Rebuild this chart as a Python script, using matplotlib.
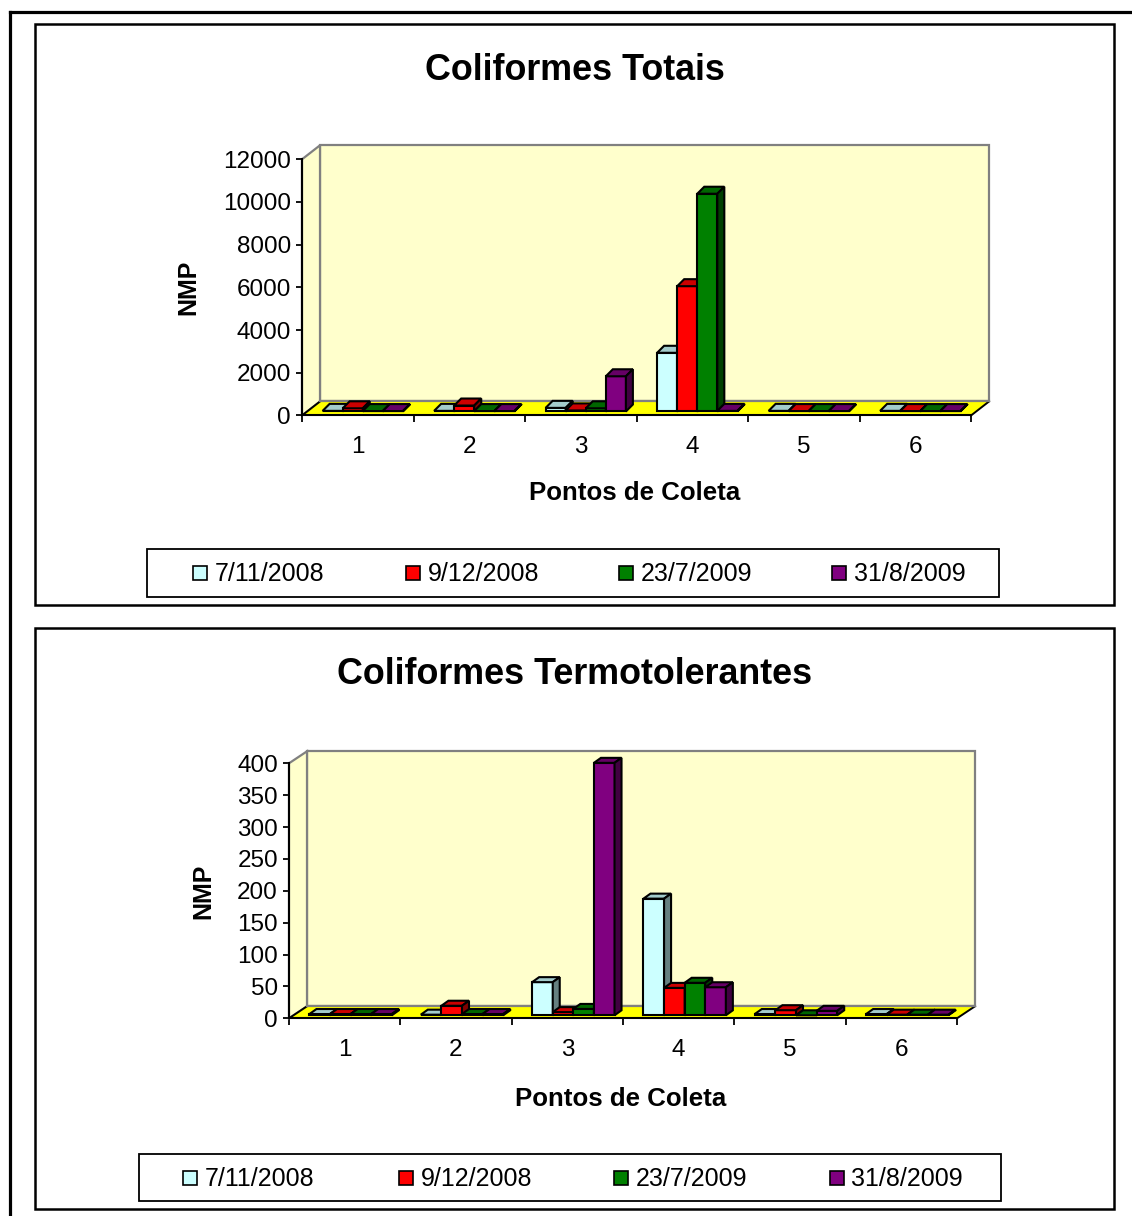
import matplotlib
matplotlib.use("Agg")
import matplotlib.pyplot as plt
from matplotlib.patches import Polygon, Rectangle
from matplotlib.lines import Line2D
from matplotlib.transforms import ScaledTranslation, IdentityTransform

plt.rcParams['font.family'] = ['Liberation Sans', 'DejaVu Sans']

W, H, DPI = 1132, 1216, 100

# ---- data -------------------------------------------------------------
categories = ['1', '2', '3', '4', '5', '6']
series_names = ['7/11/2008', '9/12/2008', '23/7/2009', '31/8/2009']

# Coliformes Totais (NMP)
totais_07_11_2008 = [30, 30, 170, 2750, 30, 30]
totais_09_12_2008 = [150, 280, 50, 5870, 20, 20]
totais_23_07_2009 = [20, 20, 150, 10200, 20, 20]
totais_31_08_2009 = [20, 20, 1650, 30, 20, 20]
totais_yticks = [0, 2000, 4000, 6000, 8000, 10000, 12000]

# Coliformes Termotolerantes (NMP)
termo_07_11_2008 = [2, 1, 52, 183, 2, 2]
termo_09_12_2008 = [2, 15, 5, 43, 8, 1]
termo_23_07_2009 = [2, 2, 10, 51, 0, 1]
termo_31_08_2009 = [2, 2, 396, 44, 7, 1]
termo_yticks = [0, 50, 100, 150, 200, 250, 300, 350, 400]

# ---- styling ----------------------------------------------------------
front_colors = ['#CCFFFF', '#FF0000', '#008000', '#800080']
top_colors = ['#A3CCCC', '#CC0000', '#006600', '#660066']
side_colors = ['#668080', '#800000', '#004000', '#400040']
WALL = '#FFFFCC'
FLOOR = '#FFFF00'
GRAY = '#808080'
EDGE_LW = 1.5
FS_TICK = 17.5
FS_LEGEND = 18
FS_YLABEL = 18
FS_XLABEL = 18.6
FS_TITLE = 25.8

fig = plt.figure(figsize=(W / DPI, H / DPI), dpi=DPI)
fig.patch.set_facecolor('white')

# background layer in pixel coordinates (frames, titles, legends)
bg = fig.add_axes([0, 0, 1, 1], zorder=0)
bg.set_xlim(0, W)
bg.set_ylim(H, 0)
bg.axis('off')

# page border
bg.plot([9.5, 9.5], [12, H], color='black', lw=2.3, solid_capstyle='projecting')
bg.plot([9.5, W], [12, 12], color='black', lw=2.3, solid_capstyle='projecting')


def draw_panel(spec, series_values, yticks):
    x0, x1, y0, ytop = spec['axes']
    ax = fig.add_axes([x0 / W, 1 - y0 / H, (x1 - x0) / W, (y0 - ytop) / H], zorder=1)
    ncat = len(categories)
    ymax = yticks[-1]
    ax.set_xlim(0, ncat)
    ax.set_ylim(0, ymax)
    ax.set_facecolor('none')
    for s in ['top', 'right']:
        ax.spines[s].set_visible(False)
    for s in ['left', 'bottom']:
        ax.spines[s].set_color('black')
        ax.spines[s].set_linewidth(1.5)
        ax.spines[s].set_zorder(50)

    ax.set_yticks(yticks)
    ax.set_yticklabels([str(t) for t in yticks])
    ax.tick_params(axis='y', direction='out', length=4, width=1.3,
                   labelsize=FS_TICK, pad=4)
    ax.set_xticks([i + 0.5 for i in range(ncat)])
    ax.set_xticklabels(categories)
    ax.set_xticks(list(range(ncat + 1)), minor=True)
    ax.tick_params(axis='x', which='major', length=0, labelsize=FS_TICK, pad=spec['xpad'])
    ax.tick_params(axis='x', which='minor', direction='out', length=5, width=1.3)

    ddx, ddy = spec['depth']          # wall depth, image pixels (dy < 0 is up)
    fdx, fdy = spec['bar_front']      # bar front plane offset
    bdx, bdy = spec['bar_depth']      # bar depth

    def disp(x, y, ox=0.0, oy=0.0):
        px, py = ax.transData.transform((x, y))
        return (px + ox, py - oy)

    ident = IdentityTransform()

    def poly(pts, **kw):
        p = Polygon(pts, closed=True, transform=ident, clip_on=False, **kw)
        ax.add_patch(p)
        return p

    # back wall and side wall
    poly([disp(0, 0, ddx, ddy), disp(ncat, 0, ddx, ddy),
          disp(ncat, ymax, ddx, ddy), disp(0, ymax, ddx, ddy)],
         facecolor=WALL, edgecolor=GRAY, lw=1.6, zorder=2)
    poly([disp(0, 0), disp(0, ymax), disp(0, ymax, ddx, ddy), disp(0, 0, ddx, ddy)],
         facecolor=WALL, edgecolor=GRAY, lw=1.6, zorder=2)
    # floor
    poly([disp(0, 0), disp(ncat, 0), disp(ncat, 0, ddx, ddy), disp(0, 0, ddx, ddy)],
         facecolor=FLOOR, edgecolor='none', zorder=3)
    a, b = disp(0, 0), disp(0, 0, ddx, ddy)
    ax.add_line(Line2D([a[0], b[0]], [a[1], b[1]], color='black', lw=1.4,
                       transform=ident, clip_on=False, zorder=4))
    a, b = disp(ncat, 0), disp(ncat, 0, ddx, ddy)
    ax.add_line(Line2D([a[0], b[0]], [a[1], b[1]], color='black', lw=1.4,
                       transform=ident, clip_on=False, zorder=4))
    a, b = disp(0, 0, ddx, ddy), disp(ncat, 0, ddx, ddy)
    ax.add_line(Line2D([a[0], b[0]], [a[1], b[1]], color=GRAY, lw=1.6,
                       transform=ident, clip_on=False, zorder=4))

    # 3-D columns
    bw = spec['bar_width']
    nser = len(series_values)
    shift = ax.transData + ScaledTranslation(fdx / DPI, -fdy / DPI, fig.dpi_scale_trans)
    for s, vals in enumerate(series_values):
        lefts = [i + 0.5 - nser * bw / 2 + s * bw for i in range(ncat)]
        z = 10 + 3 * s
        ax.bar(lefts, vals, width=bw, align='edge', color=front_colors[s],
               edgecolor='black', linewidth=EDGE_LW, transform=shift,
               clip_on=False, zorder=z)
        for xl, v in zip(lefts, vals):
            xr = xl + bw
            p1 = disp(xl, v, fdx, fdy)
            p2 = disp(xr, v, fdx, fdy)
            p3 = (p2[0] + bdx, p2[1] - bdy)
            p4 = (p1[0] + bdx, p1[1] - bdy)
            q2 = disp(xr, 0, fdx, fdy)
            q3 = (q2[0] + bdx, q2[1] - bdy)
            poly([p1, p2, p3, p4], facecolor=top_colors[s], edgecolor='black',
                 lw=EDGE_LW, joinstyle='miter', zorder=z + 1)
            poly([p2, q2, q3, p3], facecolor=side_colors[s], edgecolor='black',
                 lw=EDGE_LW, joinstyle='miter', zorder=z + 1)

    # frame, titles, axis labels
    fx0, fy0, fx1, fy1 = spec['frame']
    bg.add_patch(Rectangle((fx0, fy0), fx1 - fx0, fy1 - fy0, facecolor='white',
                           edgecolor='black', lw=1.8, zorder=1))
    tx, ty = spec['title_xy']
    bg.text(tx, ty, spec['title'], fontsize=FS_TITLE, fontweight='bold',
            ha='center', va='center', zorder=5)
    lx, ly = spec['ylabel_xy']
    bg.text(lx, ly, 'NMP', fontsize=FS_YLABEL, fontweight='bold', rotation=90,
            ha='center', va='center', zorder=5)
    lx, ly = spec['xlabel_xy']
    bg.text(lx, ly, 'Pontos de Coleta', fontsize=FS_XLABEL, fontweight='bold',
            ha='center', va='center', zorder=5)

    # legend
    gx0, gy0, gx1, gy1 = spec['legend']
    bg.add_patch(Rectangle((gx0, gy0), gx1 - gx0, gy1 - gy0, facecolor='white',
                           edgecolor='black', lw=1.3, zorder=3))
    col = (gx1 - gx0) / nser
    cy = (gy0 + gy1) / 2
    for s, name in enumerate(series_names):
        sx = gx0 + spec['legend_inset'] + s * col
        bg.add_patch(Rectangle((sx, cy - 7), 14, 14, facecolor=front_colors[s],
                               edgecolor='black', lw=1.2, zorder=4))
        bg.text(sx + 22, cy + 1, name, fontsize=FS_LEGEND, ha='left', va='center', zorder=5)
    return ax


panel_totais = dict(
    axes=(302, 971, 415.5, 159.3), depth=(18, -14), bar_front=(5, -4),
    bar_depth=(7, -7), bar_width=0.18, xpad=15,
    frame=(35, 24, 1114, 605), title='Coliformes Totais', title_xy=(575, 71),
    ylabel_xy=(188, 287), xlabel_xy=(635, 493),
    legend=(147, 549, 999, 597), legend_inset=46,
)
panel_termo = dict(
    axes=(289, 957, 1018.3, 763.3), depth=(18, -12), bar_front=(6, -3),
    bar_depth=(7, -5), bar_width=0.185, xpad=15,
    frame=(35, 628, 1114, 1209), title='Coliformes Termotolerantes', title_xy=(575, 674),
    ylabel_xy=(203, 891), xlabel_xy=(621, 1099),
    legend=(139, 1154, 1001, 1201), legend_inset=44,
)

draw_panel(panel_totais,
           [totais_07_11_2008, totais_09_12_2008, totais_23_07_2009, totais_31_08_2009],
           totais_yticks)
draw_panel(panel_termo,
           [termo_07_11_2008, termo_09_12_2008, termo_23_07_2009, termo_31_08_2009],
           termo_yticks)

fig.savefig('out.png', dpi=DPI, facecolor='white')
